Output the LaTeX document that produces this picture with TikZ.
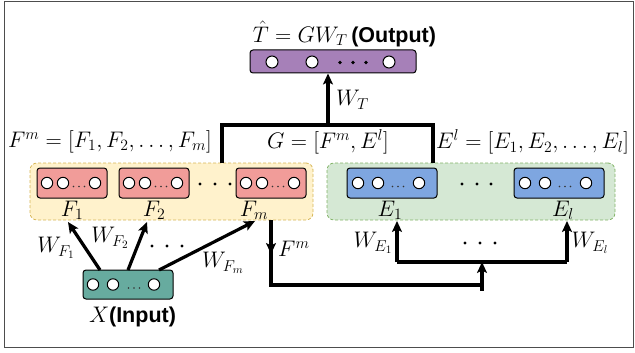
\RequirePackage{fix-cm}
\documentclass[tikz,border=0pt]{standalone}
\usepackage{fontspec}
\newfontfamily\boldsans{Liberation Sans}
\usetikzlibrary{arrows.meta}

\definecolor{outfill}{HTML}{A680B8}
\definecolor{ffill}{HTML}{F19C99}
\definecolor{efill}{HTML}{7EA6E0}
\definecolor{xfill}{HTML}{67AB9F}
\definecolor{ygrp}{HTML}{FFF2CC}
\definecolor{ygrpline}{HTML}{D6B656}
\definecolor{ggrp}{HTML}{D5E8D4}
\definecolor{ggrpline}{HTML}{82B366}
\definecolor{framecol}{HTML}{4D4D4D}

% one row of units: left x, centre y, two first offsets, dots offset, last offset
\newcommand\unitrow[6]{%
  \draw[cell] ({#1+#3},#2) circle[radius=5.7pt];
  \draw[cell] ({#1+#4},#2) circle[radius=5.7pt];
  \draw[cell] ({#1+#6},#2) circle[radius=5.7pt];
  \foreach \d in {-5.5,0,5.5}
    \fill[black!80] ({#1+#5+\d},{#2+3.5}) circle[radius=0.9pt];
}
\newcommand\tagfont{\boldsans\bfseries\fontsize{21.5}{25}\selectfont}

\begin{document}
\begin{tikzpicture}[x=1pt,y=-1pt,
  every node/.style={font=\fontsize{22.5}{27}\selectfont, inner sep=0pt},
  unitbox/.style={draw=black, line width=1pt, rounded corners=3pt},
  grp/.style={line width=0.8pt, rounded corners=7pt, dash pattern=on 3pt off 2pt},
  cell/.style={draw=black, fill=white, line width=1pt},
  wire/.style={line width=3.2pt, line join=miter},
  arr/.style={line width=3.2pt, -{Stealth[length=11pt,width=10pt,inset=2.5pt]}}]

\useasboundingbox (0,0) rectangle (635,353);
\draw[framecol, line width=1.4pt] (4.5,1.5) rectangle (633.5,347.5);

% groups of feature and embedding blocks
\node[grp, draw=ygrpline, fill=ygrp, minimum width=283, minimum height=57] (fgrp) at (171.5,191.5) {};
\node[grp, draw=ggrpline, fill=ggrp, minimum width=288, minimum height=57] (egrp) at (471,191.5) {};

% output layer
\node[unitbox, fill=outfill, minimum width=166, minimum height=23] (out) at (333,61.5) {};
\draw[cell] (272,62) circle[radius=6pt];
\draw[cell] (312,62) circle[radius=6pt];
\draw[cell] (389,62) circle[radius=6pt];
\foreach \x in {340,353,366} \fill (\x,62.5) circle[radius=1.9pt];
\node (outlbl) at (344.5,34) {$\hat{T} = GW_T$\,{\tagfont(Output)}};

% feature blocks
\node[unitbox, fill=ffill, minimum width=70, minimum height=30] (F1) at (72,183) {};
\node[unitbox, fill=ffill, minimum width=70, minimum height=30] (F2) at (154,183) {};
\node[unitbox, fill=ffill, minimum width=70, minimum height=30] (Fm) at (271,183) {};
\unitrow{37}{183}{10}{26}{42}{58}
\unitrow{119}{183}{10}{26}{42}{58}
\unitrow{236}{183}{10}{26}{42}{58}
\foreach \x in {200,215,230} \fill (\x,184) circle[radius=1.7pt];
\node (F1lbl) at (72,210) {$F_1$};
\node (F2lbl) at (154,210) {$F_2$};
\node (Fmlbl) at (254,210) {$F_m$};

% embedding blocks
\node[unitbox, fill=efill, minimum width=90, minimum height=30] (E1) at (392,183) {};
\node[unitbox, fill=efill, minimum width=90, minimum height=30] (El) at (559,183) {};
\unitrow{347}{183}{11}{31}{51}{72}
\unitrow{514}{183}{11}{31}{51}{72}
\foreach \x in {462,477,491} \fill (\x,184) circle[radius=1.7pt];
\node (E1lbl) at (390,210) {$E_1$};
\node (Ellbl) at (563,210) {$E_l$};

% input layer
\node[unitbox, fill=xfill, minimum width=90, minimum height=29] (X) at (128,284.5) {};
\unitrow{83}{284.5}{10}{30}{51}{71}
\node (Xlbl) at (132.5,317) {$X${\tagfont(Input)}};

% concatenation labels
\node (Fcat) at (110,142) {$F^m = [F_1, F_2, \ldots, F_m]$};
\node (Gcat) at (328,142) {$G = [F^m, E^l]$};
\node (Ecat) at (532.5,142) {$E^l = [E_1, E_2, \ldots, E_l]$};

% concatenation bracket and output projection
\coordinate (brL) at (222,125);
\coordinate (brR) at (433,125);
\coordinate (brM) at (328,125);
\draw[wire] (brL |- fgrp.north) -- (brL) -- (brR) -- (brR |- egrp.north);
\draw[arr] (brM) -- (brM |- out.south);
\node[anchor=west] (WT) at (336,100) {$W_T$};

% input projections to the feature blocks
\coordinate (x1) at (100,270);
\coordinate (x2) at (128,270);
\coordinate (x3) at (159,270);
\coordinate (t1) at (68,222);
\coordinate (t2) at (147,222);
\coordinate (t3) at (255,221);
\draw[arr] (x1) -- (t1);
\draw[arr] (x2) -- (t2);
\draw[arr] (x3) -- (t3);
\node (WF1) at (56,248) {$W_{F_1}$};
\node (WF2) at (110,238) {$W_{F_2}$};
\node (WFm) at (223,263) {$W_{F_m}$};
\foreach \x in {152,167,182} \fill (\x,246) circle[radius=1.7pt];

% feature path to the embedding blocks
\coordinate (fdown) at (271,254);
\coordinate (bend) at (271,285);
\coordinate (join) at (482,262);
\coordinate (e1t) at (397,221);
\coordinate (elt) at (567,221);
\draw[arr] (Fm.south |- fgrp.south) -- (fdown);
\draw[wire] (271,250) -- (bend) -- (bend -| join) -- ([yshift=-6pt]bend -| join);
\draw[arr] (bend -| join) -- (join);
\draw[wire] (join -| e1t) -- (join -| elt);
\draw[arr] (join -| e1t) -- (e1t);
\draw[arr] (join -| elt) -- (elt);
\node[anchor=west] (Fmlab) at (278,249) {$F^m$};
\node (WE1) at (373,243) {$W_{E_1}$};
\node (WEl) at (590,243) {$W_{E_l}$};
\foreach \x in {465,480,495} \fill (\x,243) circle[radius=1.7pt];
\end{tikzpicture}
\end{document}
